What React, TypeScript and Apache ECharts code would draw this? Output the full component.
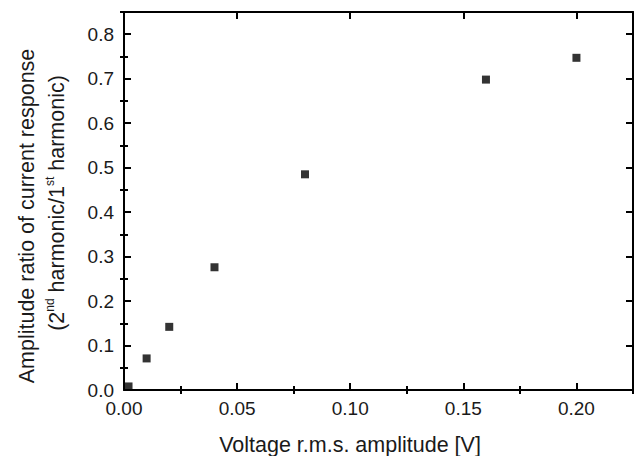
import React, { useEffect, useRef } from "react";
import * as echarts from "echarts";

const voltage = [0.002, 0.01, 0.02, 0.04, 0.08, 0.16, 0.2];
const ratio = [0.008, 0.071, 0.142, 0.276, 0.485, 0.698, 0.747];
const xTicks = [0, 0.05, 0.1, 0.15, 0.2];
const yTicks = [0, 0.1, 0.2, 0.3, 0.4, 0.5, 0.6, 0.7, 0.8];
const xMinor = [0.025, 0.075, 0.125, 0.175, 0.225];
const yMinor = [0.05, 0.15, 0.25, 0.35, 0.45, 0.55, 0.65, 0.75, 0.85];

const FONT = "'Liberation Sans', Arial, sans-serif";
const INK = "#1a1a1a";

export default function App() {
  const ref = useRef<HTMLDivElement>(null);
  useEffect(() => {
    document.body.style.margin = "0";
    const chart = echarts.init(ref.current!, undefined, { renderer: "svg" });
    const xBase = { type: "value", min: 0, max: 0.225, interval: 0.025 };
    const yBase = { type: "value", min: 0, max: 0.85, interval: 0.05 };
    const line = { show: true, onZero: false, lineStyle: { color: "#000", width: 2 } };
    const noLine = { show: false };
    const major = (vals: number[]) => ({
      show: true,
      inside: true,
      length: 7,
      customValues: vals,
      lineStyle: { color: "#000", width: 2 },
    });
    const minor = (vals: number[]) => ({
      show: true,
      inside: true,
      length: 4,
      customValues: vals,
      lineStyle: { color: "#000", width: 2 },
    });
    const noLabel = { show: false };
    const noSplit = { show: false };
    chart.setOption({
      animation: false,
      grid: { left: 124, right: 6, top: 12, bottom: 66, containLabel: false },
      xAxis: [
        {
          ...xBase,
          position: "bottom",
          axisLine: line,
          axisTick: major(xTicks),
          axisLabel: {
            show: true,
            customValues: xTicks,
            margin: 9,
            fontFamily: FONT,
            fontSize: 19,
            color: INK,
            formatter: (v: number) => v.toFixed(2),
          },
          splitLine: noSplit,
        },
        {
          ...xBase,
          position: "top",
          axisLine: line,
          axisTick: major(xTicks),
          axisLabel: noLabel,
          splitLine: noSplit,
        },
        {
          ...xBase,
          position: "bottom",
          axisLine: noLine,
          axisTick: minor(xMinor),
          axisLabel: noLabel,
          splitLine: noSplit,
        },
        {
          ...xBase,
          position: "top",
          axisLine: noLine,
          axisTick: minor(xMinor),
          axisLabel: noLabel,
          splitLine: noSplit,
        },
      ],
      yAxis: [
        {
          ...yBase,
          position: "left",
          axisLine: line,
          axisTick: major(yTicks),
          axisLabel: {
            show: true,
            customValues: yTicks,
            margin: 10,
            fontFamily: FONT,
            fontSize: 19,
            color: INK,
            formatter: (v: number) => v.toFixed(1),
          },
          splitLine: noSplit,
        },
        {
          ...yBase,
          position: "right",
          axisLine: line,
          axisTick: major(yTicks),
          axisLabel: noLabel,
          splitLine: noSplit,
        },
        {
          ...yBase,
          position: "left",
          axisLine: noLine,
          axisTick: minor(yMinor),
          axisLabel: noLabel,
          splitLine: noSplit,
        },
        {
          ...yBase,
          position: "right",
          axisLine: noLine,
          axisTick: minor(yMinor),
          axisLabel: noLabel,
          splitLine: noSplit,
        },
      ],
      series: [
        {
          type: "scatter",
          xAxisIndex: 0,
          yAxisIndex: 0,
          symbol: "rect",
          symbolSize: 8,
          itemStyle: { color: "#000" },
          clip: false,
          data: voltage.map((v, i) => [v, ratio[i]]),
        },
      ],
      graphic: [
        {
          type: "text",
          x: 350,
          y: 445,
          style: {
            text: "Voltage r.m.s. amplitude [V]",
            font: `21.5px ${FONT}`,
            fill: INK,
            textAlign: "center",
            textVerticalAlign: "middle",
          },
        },
        {
          type: "text",
          x: 27,
          y: 216,
          rotation: Math.PI / 2,
          style: {
            text: "Amplitude ratio of current response",
            font: `21.5px ${FONT}`,
            fill: INK,
            textAlign: "center",
            textVerticalAlign: "middle",
          },
        },
        {
          type: "text",
          x: 57,
          y: 203,
          rotation: Math.PI / 2,
          style: {
            text: "(2{sup|nd} harmonic/1{sup|st} harmonic)",
            fontFamily: FONT,
            fontSize: 21.5,
            lineHeight: 26,
            fill: INK,
            textAlign: "center",
            textVerticalAlign: "middle",
            rich: {
              sup: {
                fontFamily: FONT,
                fontSize: 12,
                lineHeight: 26,
                verticalAlign: "top",
                fill: INK,
              },
            },
          },
        },
      ],
    });
    return () => chart.dispose();
  }, []);
  return <div ref={ref} style={{ width: 639, height: 456 }} />;
}
